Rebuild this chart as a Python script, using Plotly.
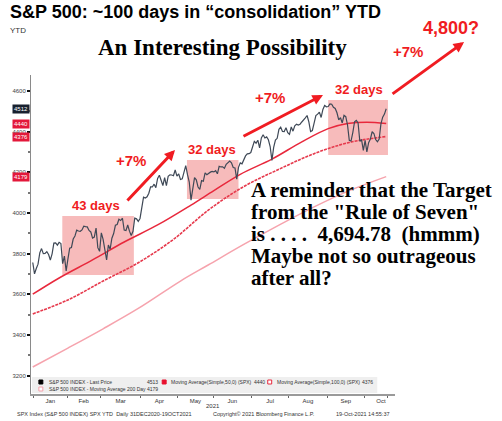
import plotly.graph_objects as go

# ---------------- data ----------------
month_names = ["Jan", "Feb", "Mar", "Apr", "May", "Jun", "Jul", "Aug", "Sep", "Oct"]
dec31 = [3756.07]
jan = [3700.65, 3726.86, 3748.14, 3803.79, 3824.68, 3799.61, 3801.19, 3809.84, 3795.54, 3768.25,
       3798.91, 3851.85, 3853.07, 3841.47, 3855.36, 3849.62, 3750.77, 3787.38, 3714.24]
feb = [3773.86, 3826.31, 3830.17, 3871.74, 3886.83, 3915.59, 3911.23, 3909.88, 3916.38, 3934.83,
       3932.59, 3931.33, 3913.97, 3906.71, 3876.50, 3881.37, 3925.43, 3829.34, 3811.15]
mar = [3901.82, 3870.29, 3819.72, 3768.47, 3841.94, 3821.35, 3875.44, 3898.81, 3939.34, 3943.34,
       3968.94, 3962.71, 3974.12, 3915.46, 3913.10, 3940.59, 3910.52, 3889.14, 3909.52, 3974.54,
       3971.09, 3958.55, 3972.89]
apr = [4019.87, 4077.91, 4073.94, 4079.95, 4097.17, 4128.80, 4127.99, 4141.59, 4124.66, 4170.42,
       4185.47, 4163.26, 4134.94, 4173.42, 4134.98, 4180.17, 4187.62, 4186.72, 4183.18, 4211.47,
       4181.17]
may = [4192.66, 4164.66, 4167.59, 4201.62, 4232.60, 4188.43, 4152.10, 4063.04, 4112.50, 4173.85,
       4163.29, 4127.83, 4115.68, 4159.12, 4155.86, 4197.05, 4188.13, 4195.99, 4200.88, 4204.11]
jun = [4202.04, 4208.12, 4192.85, 4229.89, 4226.52, 4227.26, 4219.55, 4239.18, 4247.44, 4255.15,
       4246.59, 4223.70, 4221.86, 4166.45, 4224.79, 4246.44, 4241.84, 4266.49, 4280.70, 4290.61,
       4291.80, 4297.50]
jul = [4319.94, 4352.34, 4343.54, 4358.13, 4320.82, 4369.55, 4384.63, 4369.21, 4374.30, 4360.03,
       4327.16, 4258.49, 4323.06, 4358.69, 4367.48, 4411.79, 4422.30, 4401.46, 4400.64, 4419.15,
       4395.26]
aug = [4387.16, 4423.15, 4402.66, 4429.10, 4436.52, 4432.35, 4436.75, 4447.70, 4460.83, 4468.00,
       4479.71, 4448.08, 4400.27, 4405.80, 4441.67, 4479.53, 4486.23, 4496.19, 4470.00, 4509.37,
       4528.79, 4522.68]
sep = [4524.09, 4536.95, 4535.43, 4520.03, 4514.07, 4493.28, 4458.58, 4468.73, 4443.05, 4480.70,
       4473.75, 4432.99, 4357.73, 4354.19, 4395.64, 4448.98, 4455.48, 4443.11, 4352.63, 4359.46,
       4307.54]
oct_ = [4357.04, 4300.46, 4345.72, 4363.55, 4399.76, 4391.34, 4361.19, 4350.65, 4363.80, 4438.26,
        4471.37, 4486.46, 4513.00]
months = [jan, feb, mar, apr, may, jun, jul, aug, sep, oct_]

ma50_idx = [0, 15, 34, 52, 71, 90, 103, 118, 136, 153, 168, 179, 190, 201]
ma50 = [3600, 3680, 3769, 3857, 3941, 4039, 4110, 4190, 4265, 4350, 4415, 4440, 4447, 4440]
ma100_idx = [0, 20, 40, 60, 80, 100, 120, 140, 160, 180, 201]
ma100 = [3503, 3572, 3665, 3755, 3870, 4015, 4130, 4215, 4292, 4347, 4376]
ma200_idx = [0, 20, 40, 60, 84, 100, 120, 140, 160, 180, 201]
ma200 = [3242, 3335, 3430, 3530, 3665, 3745, 3845, 3940, 4030, 4110, 4179]

tag_values = [4512, 4440, 4376, 4179]
tag_colors = ["#18212f", "#e3183a", "#e3183a", "#e3183a"]

# consolidation windows: (start idx, end idx, low, high)
windows = [(16.8, 57.5, 3695, 3985), (87.7, 117, 4069, 4261), (168, 202, 4285, 4556)]

ytick_vals = [3200, 3400, 3600, 3800, 4000, 4200, 4400, 4600]

# ---------------- build ----------------
closes = dec31[:]
for m in months:
    closes += m
xs = list(range(len(closes)))

bounds = [0.5]
for m in months:
    bounds.append(bounds[-1] + len(m))
centers = [(bounds[i] + bounds[i + 1]) / 2 for i in range(len(months))]
centers[-1] = 198

W, H = 502, 421
L, R, T, B = 26, 107, 75, 27
PW, PH = W - L - R, H - T - B


def P(px, py):
    return (px - L) / PW, 1 - (py - T) / PH


fig = go.Figure()
fig.add_trace(go.Scatter(x=ma200_idx, y=ma200, mode="lines", line=dict(color="#f6a3ad", width=1.5, shape="spline"), hoverinfo="skip"))
fig.add_trace(go.Scatter(x=ma100_idx, y=ma100, mode="lines", line=dict(color="#e63a4d", width=1.6, dash="3px,1px", shape="spline"), hoverinfo="skip"))
fig.add_trace(go.Scatter(x=ma50_idx, y=ma50, mode="lines", line=dict(color="#e8283c", width=1.5, shape="spline"), hoverinfo="skip"))
fig.add_trace(go.Scatter(x=xs, y=closes, mode="lines", line=dict(color="#3f4957", width=1.2)))

shapes = []
for (x0, x1, y0, y1) in windows:
    shapes.append(dict(type="rect", xref="x", yref="y", x0=x0, x1=x1, y0=y0, y1=y1,
                       fillcolor="rgba(232,60,60,0.35)", line=dict(width=0), layer="below"))

# legend box
lx0, ly0 = P(27, 377)
lx1, ly1 = P(377, 393)
shapes.append(dict(type="rect", xref="paper", yref="paper", x0=lx0, x1=lx1, y0=ly1, y1=ly0,
                   fillcolor="#efefef", line=dict(width=0), layer="above"))


def sq(px, py, fill, edge):
    a, b = P(px - 2, py - 2)
    c, d = P(px + 2, py + 2)
    shapes.append(dict(type="rect", xref="paper", yref="paper", x0=a, x1=c, y0=d, y1=b,
                       fillcolor=fill, line=dict(color=edge, width=1), layer="above"))


sq(36, 382, "#000000", "#000000")
sq(161, 382, "#e8102e", "#e8102e")
sq(268, 382, "#ffffff", "#e8283c")
sq(36, 389, "#ffffff", "#f4a0aa")

ann = []


def text(px, py, s, size, color="#000", fam="Liberation Sans, Arial", xa="left", ya="middle", bold=False):
    x, y = P(px, py)
    ann.append(dict(xref="paper", yref="paper", x=x, y=y, text=("<b>%s</b>" % s) if bold else s,
                    showarrow=False, xanchor=xa, yanchor=ya,
                    font=dict(size=size, color=color, family=fam)))


RED = "#f01c22"


def arrow(tx, ty, hx, hy):
    x, y = P(hx, hy)
    ann.append(dict(xref="paper", yref="paper", x=x, y=y, text="", showarrow=True,
                    axref="pixel", ayref="pixel", ax=tx - hx, ay=ty - hy,
                    arrowhead=2, arrowsize=0.7, arrowwidth=3, arrowcolor=RED))


text(3, 12, "S&P 500: ~100 days in “consolidation” YTD", 18, bold=True)
text(3, 30, "YTD", 8, color="#333")
text(220, 48, "An Interesting Possibility", 23, fam="Liberation Serif, Times New Roman", xa="center", bold=True)
text(452, 28, "4,800?", 18, color=RED, xa="center", bold=True)
text(408, 51, "+7%", 15, color=RED, xa="center", bold=True)
text(268, 97, "+7%", 15, color=RED, xa="center", bold=True)
text(127, 160, "+7%", 15, color=RED, xa="center", bold=True)
text(92, 205, "43 days", 13, color=RED, xa="center", bold=True)
text(209, 149, "32 days", 13, color=RED, xa="center", bold=True)
text(358, 89, "32 days", 13, color=RED, xa="center", bold=True)
arrow(123, 202, 172, 150)
arrow(241, 137, 322, 95)
arrow(392, 95, 465, 42)

serif = "Liberation Serif, Times New Roman"
for s, py in [("A reminder that the Target", 190), ("from the \"Rule of Seven\"", 212),
              ("is . . . .  4,694.78  (hmmm)", 234), ("Maybe not so outrageous", 256),
              ("after all?", 278)]:
    text(247, py, s, 21, fam=serif, bold=True)

# legend texts
lg = "#333"
text(42, 382, "S&P 500 INDEX - Last Price", 5, color=lg)
text(142, 382, "4513", 5, color=lg)
text(166, 382, "Moving Average(Simple,50,0) (SPX)", 5, color=lg)
text(250, 382, "4440", 5, color=lg)
text(273, 382, "Moving Average(Simple,100,0) (SPX)", 5, color=lg)
text(360, 382, "4376", 5, color=lg)
text(42, 389, "S&P 500 INDEX - Moving Average 200 Day", 5, color=lg)
text(142, 389, "4179", 5, color=lg)

text(210, 406, "2021", 6, color="#333", xa="center")
text(10, 414, "SPX Index (S&P 500 INDEX) SPX YTD  Daily 31DEC2020-19OCT2021", 5.5, color="#333")
text(208, 414, "Copyright© 2021 Bloomberg Finance L.P.", 5.5, color="#333")
text(333, 414, "19-Oct-2021 14:55:37", 5.5, color="#333")

for v, c in zip(tag_values, tag_colors):
    ann.append(dict(xref="paper", yref="y", x=0, y=v, text=str(v), showarrow=False,
                    xanchor="right", yanchor="middle", xshift=-1, bgcolor=c, borderpad=1,
                    font=dict(size=6, color="white", family="Liberation Sans, Arial")))

fig.update_layout(
    width=W, height=H, margin=dict(l=L, r=R, t=T, b=B),
    paper_bgcolor="white", plot_bgcolor="white", showlegend=False,
    shapes=shapes, annotations=ann,
    xaxis=dict(range=[-1, 206], showgrid=False, zeroline=False, showline=True, linecolor="#9a9a9a",
               linewidth=1.5, tickmode="array", tickvals=centers, ticktext=month_names, ticks="",
               tickfont=dict(size=6, color="#333", family="Liberation Sans, Arial"),
               minor=dict(tickmode="array", tickvals=bounds, ticks="outside", ticklen=2,
                          tickcolor="#666", showgrid=False)),
    yaxis=dict(range=[3109, 4679], showgrid=False, zeroline=False, showline=True, linecolor="#8a8a8a",
               linewidth=1, tickmode="array", tickvals=ytick_vals, ticks="outside", ticklen=3,
               tickcolor="#111", tickwidth=1.5,
               tickfont=dict(size=6, color="#444", family="Liberation Sans, Arial"),
               minor=dict(dtick=100, tick0=3100, ticks="outside", ticklen=2, tickcolor="#777",
                          showgrid=False)),
)

fig.write_html("out.html")
